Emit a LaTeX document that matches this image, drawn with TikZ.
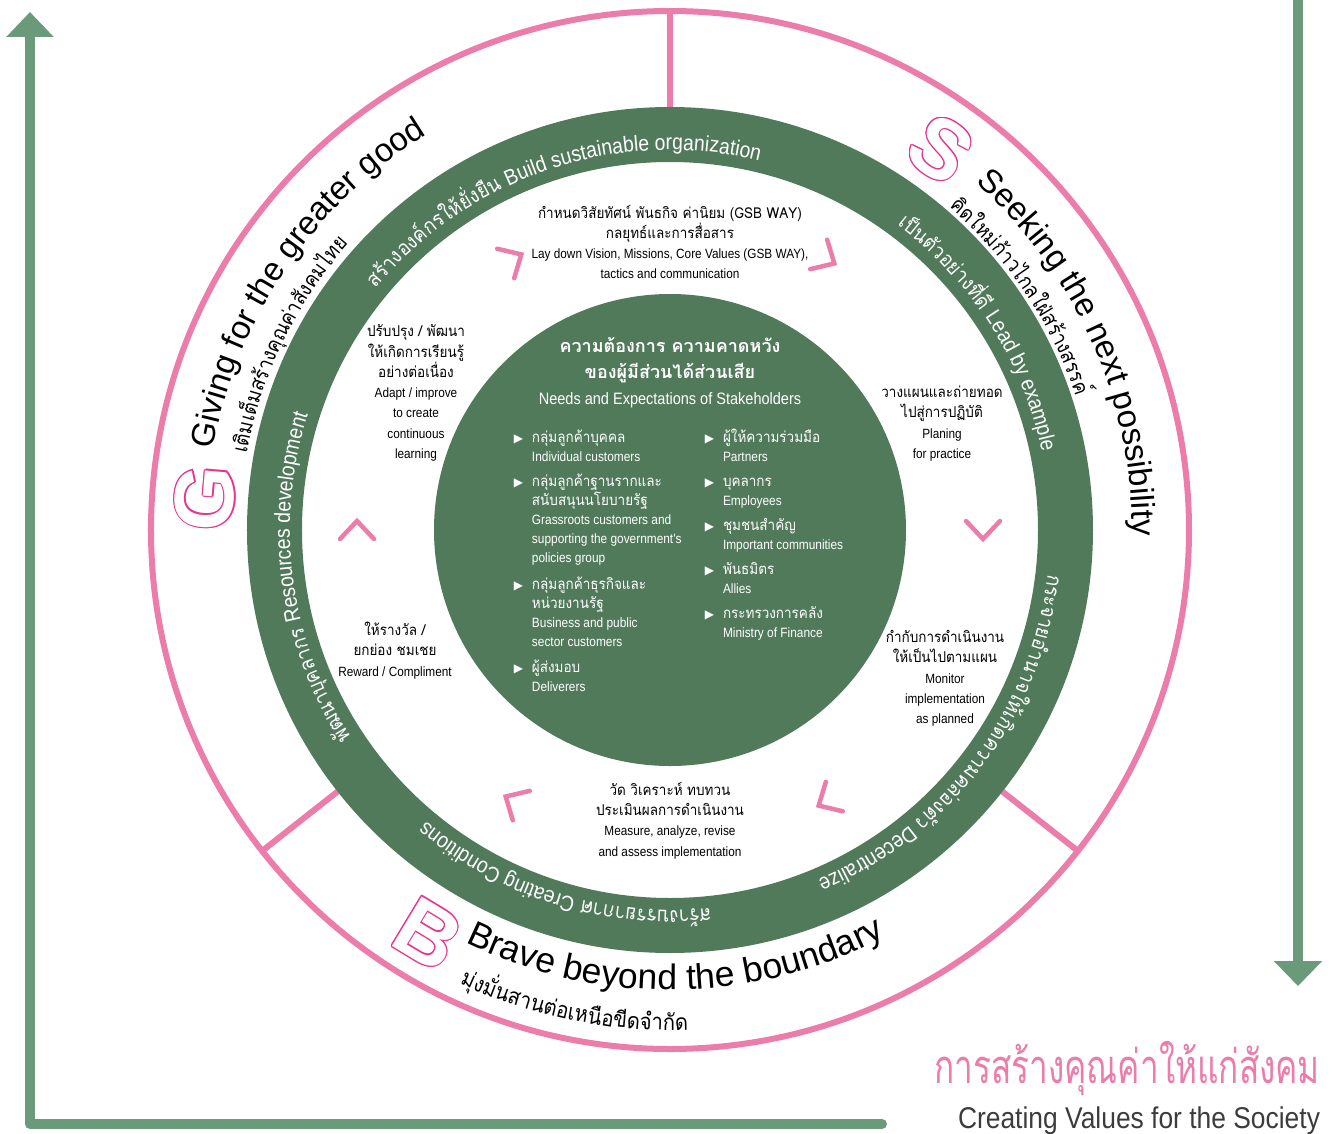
\documentclass[tikz,border=0pt]{standalone}
\usepackage{fontspec}
\setmainfont{Liberation Sans}
\newfontfamily\condfont[FakeStretch=0.88]{Liberation Sans}
\newfontfamily\thaifont[Script=Thai]{Loma}
\newfontfamily\thaicond[Script=Thai,FakeStretch=0.9]{Loma}
\newfontfamily\thaititle[Script=Thai,FakeStretch=0.71]{Loma}
\newfontfamily\symfont{DejaVu Sans}
\usetikzlibrary{decorations.text,arrows.meta}

\definecolor{ringgreen}{RGB}{81,122,91}
\definecolor{flowgreen}{RGB}{106,154,122}
\definecolor{rimpink}{RGB}{236,124,170}
\definecolor{letterpink}{RGB}{232,52,140}
\definecolor{captiongray}{RGB}{60,60,60}

% type sizes
\newcommand\thline{\thaicond\fontsize{15}{20.3}\selectfont}
\newcommand\enline{\condfont\fontsize{13.4}{20.3}\selectfont}
\newcommand\ringth{\color{white}\thaicond\fontsize{21}{21}\selectfont}
\newcommand\ringen{\color{white}\condfont\fontsize{22}{22}\selectfont}
\newcommand\outeren{\fontsize{33}{33}\selectfont}
\newcommand\bottomen{\fontsize{35.5}{35.5}\selectfont}
\newcommand\outerth{\thaicond\fontsize{21}{21}\selectfont}
\newcommand\bottomth{\thaicond\fontsize{22.5}{22.5}\selectfont}
\newcommand\itemth{\thaicond\fontsize{15}{19}\selectfont}
\newcommand\itemen{\condfont\fontsize{13.5}{19}\selectfont}
\newcommand\itemmark{\llap{\symfont\fontsize{12}{12}\selectfont ▶\hspace{9pt}}\rule{0pt}{16pt}}

\begin{document}
\begin{tikzpicture}[x=1pt, y=1pt]
\tikzset{ inner sep=0pt, outer sep=0pt,
  rim/.style={draw=rimpink, line width=6pt},
  flow/.style={draw=flowgreen, line width=10pt, line cap=round, line join=round},
  chevron/.style={draw=rimpink, line width=4.5pt, line cap=round},
  block/.style={align=center, font=\enline},
  listitem/.style={align=left, anchor=north west, text=white, font=\itemen},
  curved/.style={decorate, decoration={text along path, text align=center, text={#1}}},
  hollow/.style={font=\bfseries\fontsize{84}{84}\selectfont},
}

\useasboundingbox (-670,-603) rectangle (668,530);

%\draw [lightgray] (-670,-603) grid[step=50] (668,530);

% the two flows round the wheel
\coordinate (flowtop) at (-640,518);
\coordinate (flowend) at (212,-594);
\coordinate (flowin)  at (628,540);
\coordinate (flowout) at (628,-456);
\draw [flow, -{Triangle[width=46pt,length=25pt]}] (flowend) -| (flowtop);
\draw [flow, -{Triangle[width=47pt,length=25pt]}] (flowin) -- (flowout);

% outer rim and its three dividers
\draw [rim] (0,0) circle[radius=519];
\foreach \a in {90,218.2,321.8}
  \draw [rim] (\a:423) -- (\a:519);

% green ring and hub
\fill [ringgreen, even odd rule] (0,0) circle[radius=423] circle[radius=368];
\node [circle, fill=ringgreen, minimum size=472pt] (hub) at (0,0) {};

% chevrons running clockwise
\foreach \a in {0,60,...,300}
  \draw [chevron, shift={(\a:313)}, rotate=\a] (-17,9) -- (0,-9) -- (17,9);

% outlined initials
\foreach \o in {0,30,...,330} {
  \node [hollow, text=letterpink, rotate=85,    shift={(\o:1.1)}] (G\o) at (-465,32)   {G};
  \node [hollow, text=letterpink, rotate=-35.4, shift={(\o:1.1)}] (S\o) at (271,381)   {S};
  \node [hollow, text=letterpink, rotate=-31.1, shift={(\o:1.1)}] (B\o) at (-242,-404) {B};
}
\node [hollow, text=white, rotate=85]    (G) at (-465,32)   {G};
\node [hollow, text=white, rotate=-35.4] (S) at (271,381)   {S};
\node [hollow, text=white, rotate=-31.1] (B) at (-242,-404) {B};

% outer band
\path [curved={|\outeren|Giving for the greater good}]
  (205.8:464) arc[start angle=205.8, end angle=85.8, radius=464];
\path [curved={|\outerth|{เติม}{เต็ม}{สร้าง}{คุณ}{ค่า}{สัง}{คม}{ไทย}}]
  (214:430) arc[start angle=214, end angle=94, radius=430];
\path [curved={|\outeren|Seeking the next possibility}]
  (84:462) arc[start angle=84, end angle=-36, radius=462];
\path [curved={|\outerth|{คิด}{ใหม่}{ก้าว}{ไกล}{ใฝ่}{สร้าง}{สรรค์}}]
  (93.7:427) arc[start angle=93.7, end angle=-26.3, radius=427];
\path [curved={|\bottomen|Brave beyond the boundary}]
  (210.75:460) arc[start angle=210.75, end angle=330.75, radius=460];
\path [curved={|\bottomth|{มุ่ง}{มั่น}{สาน}{ต่อ}{เหนือ}{ขีด}{จำ}{กัด}}]
  (198.6:500) arc[start angle=198.6, end angle=318.6, radius=500];

% ring labels
\path [curved={|\ringth|{สร้าง}{องค์}{กร}{ให้}{ยั่ง}{ยืน} |\ringen|Build sustainable organization}]
  (168.5:380) arc[start angle=168.5, end angle=48.5, radius=380];
\path [curved={|\ringth|{เป็น}{ตัว}{อย่าง}{ที่}{ดี} |\ringen|Lead by example}]
  (92.6:380) arc[start angle=92.6, end angle=-27.4, radius=380];
\path [curved={|\ringth|{กระ}{จาย}{อำ}{นาจ}{ให้}{เกิด}{ความ}{คล่อง}{ตัว} |\ringen|Decentralize}]
  (23.1:380) arc[start angle=23.1, end angle=-96.9, radius=380];
\path [curved={|\ringth|{สร้าง}{บรร}{ยา}{กาศ} |\ringen|Creating Conditions}]
  (313.1:380) arc[start angle=313.1, end angle=193.1, radius=380];
\path [curved={|\ringth|{พัฒ}{นา}{บุค}{ลา}{กร} |\ringen|Resources development}]
  (247.7:380) arc[start angle=247.7, end angle=127.7, radius=380];

% steps between ring and hub
\node [block] (vision) at (0,288)
  {{\thline กำหนดวิสัยทัศน์ พันธกิจ ค่านิยม (GSB WAY)}\\{\thline กลยุทธ์และการสื่อสาร}\\
   Lay down Vision, Missions, Core Values (GSB WAY),\\tactics and communication};
\node [block] (plan) at (272,106.5)
  {{\thline วางแผนและถ่ายทอด}\\{\thline ไปสู่การปฏิบัติ}\\Planing\\for practice};
\node [block] (monitor) at (275,-148.5)
  {{\thline กำกับการดำเนินงาน}\\{\thline ให้เป็นไปตามแผน}\\Monitor\\implementation\\as planned};
\node [block] (measure) at (0,-290.5)
  {{\thline วัด วิเคราะห์ ทบทวน}\\{\thline ประเมินผลการดำเนินงาน}\\Measure, analyze, revise\\and assess implementation};
\node [block] (reward) at (-275,-120.5)
  {{\thline ให้รางวัล /}\\{\thline ยกย่อง ชมเชย}\\Reward / Compliment};
\node [block] (adapt) at (-254,137)
  {{\thline ปรับปรุง / พัฒนา}\\{\thline ให้เกิดการเรียนรู้}\\{\thline อย่างต่อเนื่อง}\\Adapt / improve\\to create\\continuous\\learning};

% hub contents
\node [align=center, text=white, font=\condfont\fontsize{16.5}{26}\selectfont] (needs) at (0,157)
  {{\thaifont\bfseries\fontsize{18}{26}\selectfont ความต้องการ ความคาดหวัง}\\
   {\thaifont\bfseries\fontsize{18}{26}\selectfont ของผู้มีส่วนได้ส่วนเสีย}\\
   Needs and Expectations of Stakeholders};

\node [listitem] (retail)   at (-138,104) {\itemmark{\itemth กลุ่มลูกค้าบุคคล}\\Individual customers};
\node [listitem] (grass)    at (-138,60)  {\itemmark{\itemth กลุ่มลูกค้าฐานรากและ}\\{\itemth สนับสนุนนโยบายรัฐ}\\
  Grassroots customers and\\supporting the government's\\policies group};
\node [listitem] (business) at (-138,-43) {\itemmark{\itemth กลุ่มลูกค้าธุรกิจและ}\\{\itemth หน่วยงานรัฐ}\\
  Business and public\\sector customers};
\node [listitem] (deliver)  at (-138,-126) {\itemmark{\itemth ผู้ส่งมอบ}\\Deliverers};

\node [listitem] (partner)  at (53,104) {\itemmark{\itemth ผู้ให้ความร่วมมือ}\\Partners};
\node [listitem] (staff)    at (53,60)  {\itemmark{\itemth บุคลากร}\\Employees};
\node [listitem] (commun)   at (53,16)  {\itemmark{\itemth ชุมชนสำคัญ}\\Important communities};
\node [listitem] (allies)   at (53,-28) {\itemmark{\itemth พันธมิตร}\\Allies};
\node [listitem] (ministry) at (53,-72) {\itemmark{\itemth กระทรวงการคลัง}\\Ministry of Finance};

% caption
\node [anchor=base east, text=rimpink, font=\thaititle\fontsize{47}{47}\selectfont] (valueth) at (650,-553)
  {การสร้างคุณค่าให้แก่สังคม};
\node [anchor=base east, text=captiongray, font=\condfont\fontsize{30}{30}\selectfont] (valueen) at (650,-598)
  {Creating Values for the Society};
\end{tikzpicture}
\end{document}
